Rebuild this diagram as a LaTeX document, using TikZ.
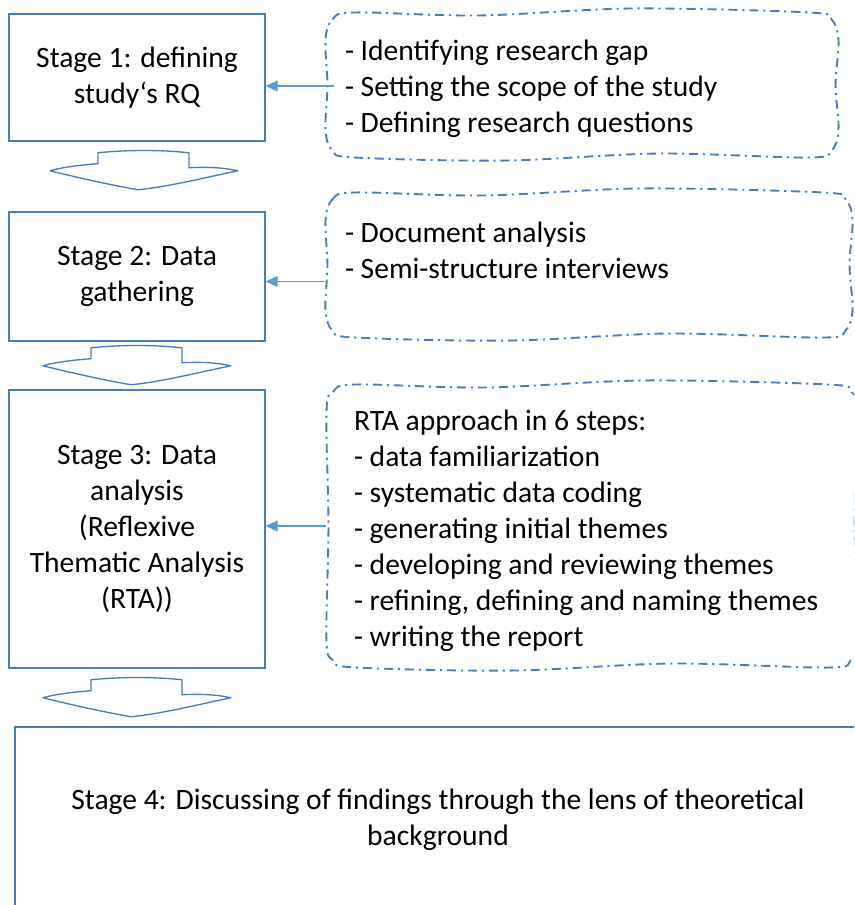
\documentclass[tikz,border=0pt]{standalone}
\usepackage{fontspec}
\setmainfont{Carlito}
\usetikzlibrary{arrows.meta,calc}
\definecolor{boxblue}{HTML}{4A7EBB}
\definecolor{linkblue}{HTML}{5B9BD5}
\newcommand{\pxu}{0.372pt}
% wavy dash-dotted frame round a note area
\newcommand{\wavyframe}[1]{%
  \draw[noteline] plot[smooth cycle, tension=0.55] coordinates {
    ($(#1.north west)+(0,28)$) ($(#1.north west)+(7,7)$) ($(#1.north west)+(30,0)$)
    ($(#1.north west)!0.3!(#1.north east)+(0,3)$)
    ($(#1.north west)!0.6!(#1.north east)+(0,-4)$)
    ($(#1.north east)+(-30,0)$) ($(#1.north east)+(-7,7)$) ($(#1.north east)+(0,28)$)
    ($(#1.north east)!0.5!(#1.south east)+(-3,0)$)
    ($(#1.south east)+(0,-28)$) ($(#1.south east)+(-7,-7)$) ($(#1.south east)+(-30,0)$)
    ($(#1.south west)!0.65!(#1.south east)+(0,-4)$)
    ($(#1.south west)!0.35!(#1.south east)+(0,3)$)
    ($(#1.south west)+(30,0)$) ($(#1.south west)+(7,-7)$) ($(#1.south west)+(0,-28)$)
    ($(#1.north west)!0.5!(#1.south west)+(2,0)$)
  };}
\tikzset{
  stagebox/.style={draw=boxblue, line width=0.55pt, align=center, inner sep=0pt,
    font=\fontsize{11}{13.4}\selectfont},
  notespace/.style={inner sep=0pt},
  noteline/.style={draw=boxblue, line width=0.7pt,
    dash pattern=on 3.4pt off 1.8pt on 0.8pt off 1.8pt},
  notetext/.style={anchor=west, align=left, inner sep=0pt,
    font=\fontsize{11}{13.4}\selectfont},
  link/.style={draw=linkblue, line width=0.4pt, -{Triangle[length=4.4pt, width=4pt]}},
  flowarrow/.style={draw=boxblue, line width=0.5pt, fill=white, line join=round},
  downarrow/.pic={
    \draw[flowarrow] (-46,2) .. controls (-15,-1) and (15,-1) .. (45,2) -- (45,17)
      .. controls (65,16) and (80,17) .. (94,20)
      .. controls (60,27) and (25,36) .. (-6,39)
      .. controls (-35,34) and (-70,26) .. (-94,20)
      .. controls (-80,16) and (-60,14) .. (-46,13) -- cycle;
  }
}
\begin{document}
\begin{tikzpicture}[x=\pxu, y=-\pxu]
  \clip (0,0) rectangle (854,905);

  % stages
  \node[stagebox, minimum width=256*\pxu, minimum height=127*\pxu] (s1) at (137,77.5)
    {Stage 1: defining\\study‘s RQ};
  \node[stagebox, minimum width=256*\pxu, minimum height=129*\pxu] (s2) at (137,276.5)
    {Stage 2: Data\\gathering};
  \node[stagebox, minimum width=256*\pxu, minimum height=278*\pxu] (s3) at (137,529)
    {Stage 3: Data\\analysis\\(Reflexive\\Thematic Analysis\\(RTA))};
  \node[stagebox, minimum width=846*\pxu, minimum height=186*\pxu] (s4) at (438,820)
    {Stage 4: Discussing of findings through the lens of theoretical\\background};

  % block arrows between stages
  \path ($(s1.south)+(7,9)$) pic {downarrow};
  \path ($(s2.south)+(0,4)$) pic {downarrow};
  \path ($(s3.south)+(0,9)$) pic {downarrow};

  % notes on the right
  \node[notespace, minimum width=512*\pxu, minimum height=144*\pxu] (rq) at (582,85) {};
  \wavyframe{rq}
  \node[notetext] (rqtext) at ($(rq.west)+(19,4)$)
    {- Identifying research gap\\- Setting the scope of the study\\- Defining research questions};

  \node[notespace, minimum width=526*\pxu, minimum height=144*\pxu] (dg) at (589,265) {};
  \wavyframe{dg}
  \node[notetext] (dgtext) at ($(dg.west)+(19,-15)$)
    {- Document analysis\\- Semi-structure interviews};

  \node[notespace, minimum width=530*\pxu, minimum height=282*\pxu] (rta) at (592,526) {};
  \wavyframe{rta}
  \node[notetext] (rtatext) at ($(rta.west)+(27,5)$)
    {RTA approach in 6 steps:\\- data familiarization\\- systematic data coding\\
     - generating initial themes\\- developing and reviewing themes\\
     - refining, defining and naming themes\\- writing the report};

  % links
  \draw[link] ($(rq.west)+(9,1)$) -- ($(rq.west -| s1.east)+(0,1)$);
  \draw[link] ($(s2.east -| dg.west)+(0,5)$) -- ($(s2.east)+(0,5)$);
  \draw[link] (rta.west) -- (rta.west -| s3.east);
\end{tikzpicture}
\end{document}
